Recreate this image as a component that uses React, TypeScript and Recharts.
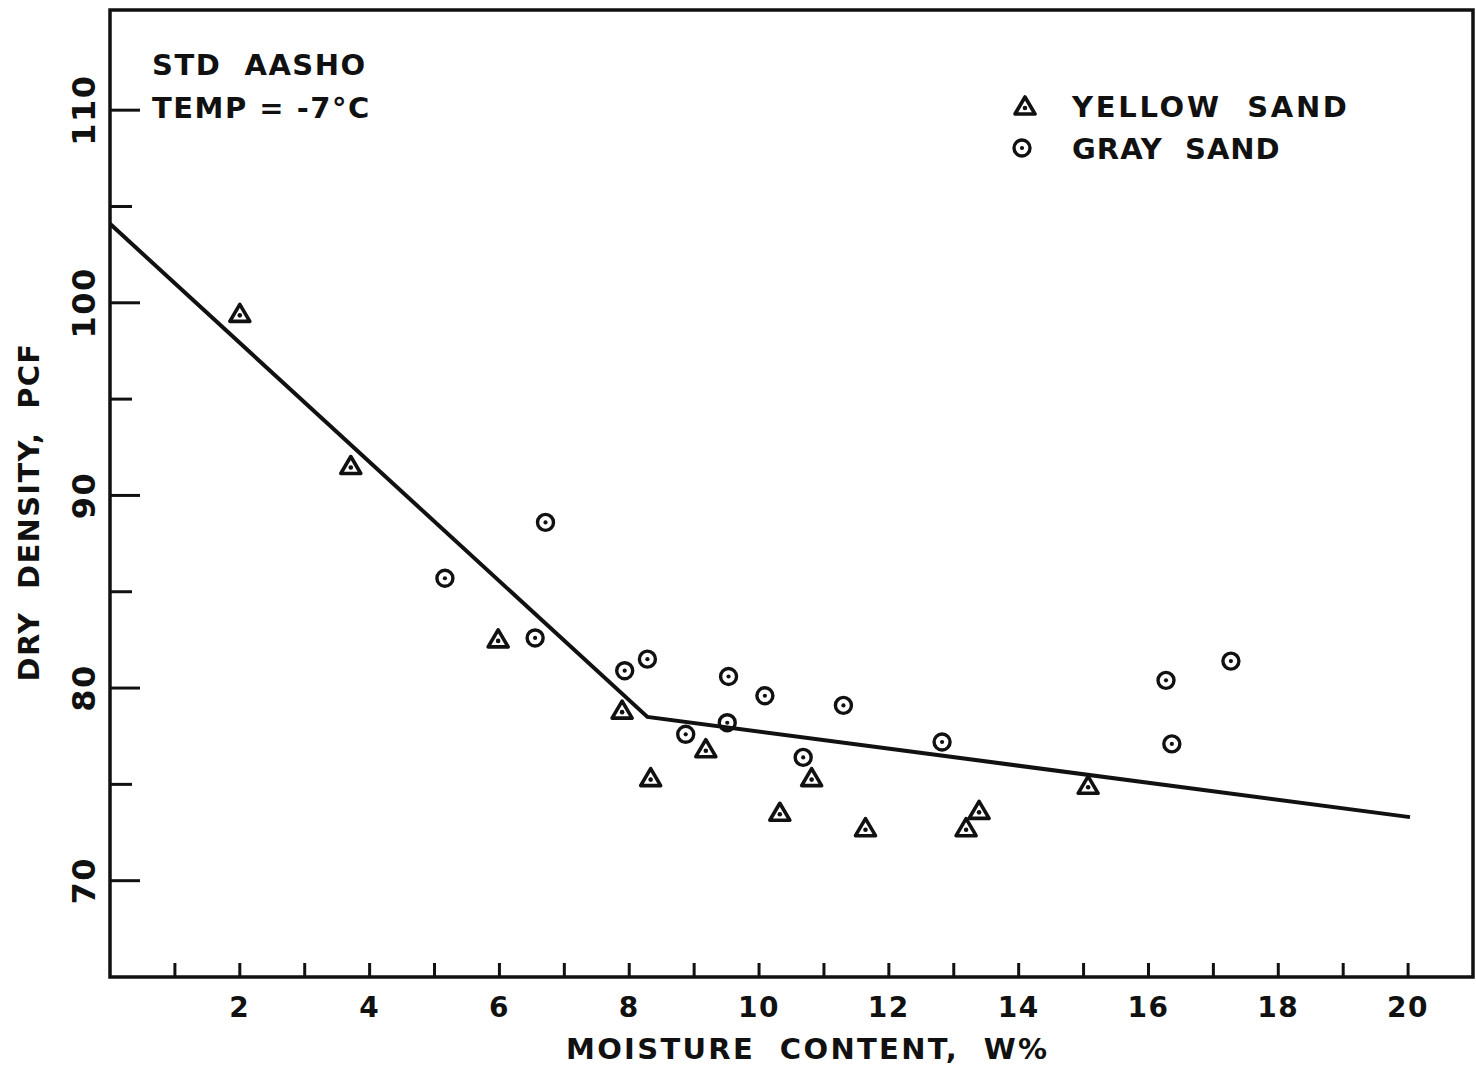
import React from "react";
import { ScatterChart, Scatter, XAxis, YAxis, ReferenceArea } from "recharts";

// values
const yellowSandX = [2.0, 3.71, 5.98, 7.89, 8.33, 9.18, 10.32, 10.81, 11.64, 13.19, 13.39, 15.07];
const yellowSandY = [99.4, 91.5, 82.5, 78.8, 75.3, 76.8, 73.5, 75.3, 72.7, 72.7, 73.6, 74.9];

const graySandX = [5.16, 6.71, 6.55, 7.93, 8.28, 8.87, 9.51, 9.53, 10.09, 10.68, 11.3, 12.82, 16.27, 16.36, 17.27];
const graySandY = [85.7, 88.6, 82.6, 80.9, 81.5, 77.6, 78.2, 80.6, 79.6, 76.4, 79.1, 77.2, 80.4, 77.1, 81.4];

const fitLineX = [0, 8.28, 20.03];
const fitLineY = [104.1, 78.5, 73.3];

const xTicks = [1, 2, 3, 4, 5, 6, 7, 8, 9, 10, 11, 12, 13, 14, 15, 16, 17, 18, 19, 20];
const yTicks = [70, 75, 80, 85, 90, 95, 100, 105, 110];

const X_DOMAIN = [0, 21];
const Y_DOMAIN = [65, 115.2];

const INK = "#111";
const FONT = "'DejaVu Sans', sans-serif";

const toPoints = (xs: number[], ys: number[]) => xs.map((x, i) => ({ x, y: ys[i] }));

const yellowSand = toPoints(yellowSandX, yellowSandY);
const graySand = toPoints(graySandX, graySandY);
const fitLine = toPoints(fitLineX, fitLineY);

const Triangle = ({ cx, cy }: any) => (
    <g>
        <path d={`M${cx},${cy - 10} L${cx + 10},${cy + 7} L${cx - 10},${cy + 7} Z`} fill="none" stroke={INK} strokeWidth={3.6} strokeLinejoin="round" />
        <circle cx={cx} cy={cy + 1} r={2.3} fill={INK} />
    </g>
);

const Ring = ({ cx, cy }: any) => (
    <g>
        <circle cx={cx} cy={cy} r={8} fill="none" stroke={INK} strokeWidth={3.4} />
        <circle cx={cx} cy={cy} r={2.1} fill={INK} />
    </g>
);

const XTick = ({ x, y, payload }: any) => (
    <g>
        <line x1={x} y1={y} x2={x} y2={y - 14} stroke={INK} strokeWidth={3} />
        {payload.value % 2 === 0 && (
            <text x={x} y={y + 30} textAnchor="middle" dominantBaseline="central" fontFamily={FONT} fontWeight="bold" fontSize={28} fill={INK} letterSpacing={1.5}>
                {payload.value}
            </text>
        )}
    </g>
);

const YTick = ({ x, y, payload }: any) => {
    const labeled = payload.value % 10 === 0;
    const lx = x - 26;
    return (
        <g>
            <line x1={x} y1={y} x2={x + (labeled ? 30 : 22)} y2={y} stroke={INK} strokeWidth={3} />
            {labeled && (
                <text x={lx} y={y} transform={`rotate(-90, ${lx}, ${y})`} textAnchor="middle" dominantBaseline="central" fontFamily={FONT} fontWeight="bold" fontSize={32} fill={INK} letterSpacing={1.5}>
                    {payload.value}
                </text>
            )}
        </g>
    );
};

const textStyle: React.CSSProperties = {
    position: "absolute",
    fontFamily: FONT,
    fontWeight: "bold",
    fontSize: 29,
    letterSpacing: 1.5,
    color: INK,
    whiteSpace: "pre",
    lineHeight: 1,
    transform: "translateY(-50%)",
};

export default function App() {
    return (
        <div style={{ position: "absolute", left: 0, top: 0, width: 1476, height: 1069, background: "#fff" }}>
            <ScatterChart width={1476} height={1069} margin={{ top: 10, right: 3, left: 50, bottom: 32 }}>
                <XAxis type="number" dataKey="x" domain={X_DOMAIN} ticks={xTicks} interval={0} allowDataOverflow
                    height={60} axisLine={false} tickLine={false} tickSize={0} tickMargin={0} tick={<XTick />} />
                <YAxis type="number" dataKey="y" domain={Y_DOMAIN} ticks={yTicks} interval={0} allowDataOverflow
                    width={60} axisLine={false} tickLine={false} tickSize={0} tickMargin={0} tick={<YTick />} />
                <ReferenceArea x1={X_DOMAIN[0]} x2={X_DOMAIN[1]} y1={Y_DOMAIN[0]} y2={Y_DOMAIN[1]} fill="none" fillOpacity={0} stroke={INK} strokeWidth={3.5} />
                <Scatter name="fit" data={fitLine} line={{ stroke: INK, strokeWidth: 4 }} shape={() => <g />} isAnimationActive={false} />
                <Scatter name="YELLOW SAND" data={yellowSand} shape={<Triangle />} isAnimationActive={false} />
                <Scatter name="GRAY SAND" data={graySand} shape={<Ring />} isAnimationActive={false} />
            </ScatterChart>

            <div style={{ ...textStyle, left: 152, top: 65 }}>{"STD  AASHO"}</div>
            <div style={{ ...textStyle, left: 152, top: 108 }}>{"TEMP = -7°C"}</div>

            <svg style={{ position: "absolute", left: 1005, top: 88 }} width={40} height={80}>
                <Triangle cx={20} cy={19} />
                <Ring cx={17} cy={60} />
            </svg>
            <div style={{ ...textStyle, left: 1072, top: 107, letterSpacing: 2.7 }}>{"YELLOW  SAND"}</div>
            <div style={{ ...textStyle, left: 1072, top: 149, letterSpacing: 1 }}>{"GRAY  SAND"}</div>

            <div style={{ ...textStyle, left: 566, top: 1049, letterSpacing: 2.3 }}>{"MOISTURE  CONTENT,  W%"}</div>
            <div style={{ ...textStyle, left: 29, top: 512, transform: "translate(-50%, -50%) rotate(-90deg)", letterSpacing: 1.3 }}>{"DRY  DENSITY,  PCF"}</div>
        </div>
    );
}
